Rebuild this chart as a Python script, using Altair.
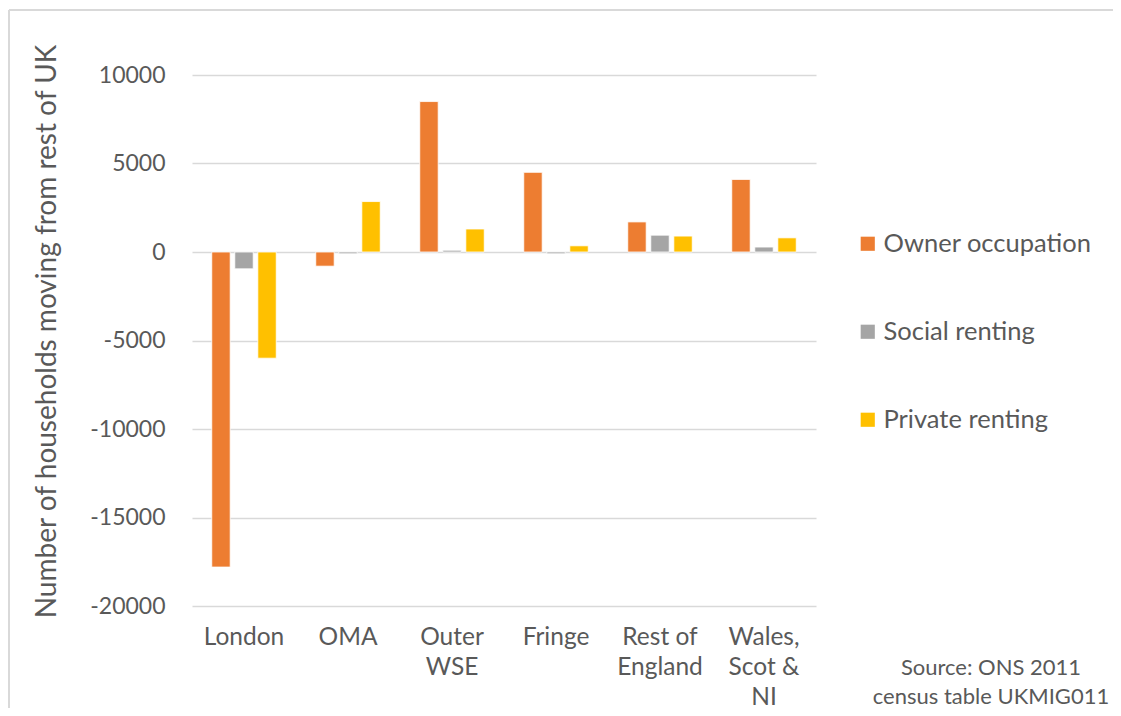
import altair as alt
import pandas as pd

categories = ["London", "OMA", "Outer WSE", "Fringe", "Rest of England", "Wales, Scot & NI"]
tenures = ["Owner occupation", "Social renting", "Private renting"]
owner = [-17800, -800, 8500, 4500, 1700, 4100]
social = [-950, -100, 100, -100, 950, 280]
private = [-6000, 2850, 1300, 350, 900, 800]
colors = ["#ED7D31", "#A5A5A5", "#FFC000"]
label_lines = {
    "Outer WSE": ["Outer", "WSE"],
    "Rest of England": ["Rest of", "England"],
    "Wales, Scot & NI": ["Wales,", "Scot &", "NI"],
}
source_lines = ["Source: ONS 2011", "census table UKMIG011"]

rows = []
for i, c in enumerate(categories):
    for t, vals in zip(tenures, [owner, social, private]):
        rows.append({"region": c, "tenure": t, "value": vals[i]})
df = pd.DataFrame(rows)

expr = "datum.value"
for k, v in label_lines.items():
    arr = "[" + ",".join("'" + s + "'" for s in v) + "]"
    expr = f"datum.value == '{k}' ? {arr} : ({expr})"

FONT = "Lato"
TXT = "#595959"

bars = alt.Chart(df).mark_bar(stroke="white", strokeWidth=0.8).encode(
    x=alt.X("region:N", sort=categories,
            scale=alt.Scale(paddingInner=0.38, paddingOuter=0.19),
            axis=alt.Axis(title=None, labelAngle=0, domain=False, ticks=False, grid=False,
                          labelExpr=expr, labelPadding=31, labelLineHeight=30,
                          labelFontSize=24.5, labelColor=TXT, labelFont=FONT,
                          labelBaseline="middle", labelLimit=0)),
    xOffset=alt.XOffset("tenure:N", sort=tenures, scale=alt.Scale(paddingInner=0.2)),
    y=alt.Y("value:Q", scale=alt.Scale(domain=[-20000, 10000], nice=False),
            axis=alt.Axis(values=[-20000, -15000, -10000, -5000, 0, 5000, 10000],
                          labelExpr="'' + datum.value",
                          title="Number of households moving from rest of UK",
                          titleFont=FONT, titleFontSize=28, titleFontWeight="normal",
                          titleColor=TXT, titleX=-145, titleY=256,
                          titleAlign="center", titleBaseline="middle", titleAngle=-90,
                          labelFont=FONT, labelFontSize=23, labelColor=TXT,
                          labelPadding=27, domain=False, ticks=False,
                          gridColor="#d9d9d9", gridWidth=1.3)),
    color=alt.Color("tenure:N", sort=tenures,
                    scale=alt.Scale(domain=tenures, range=colors),
                    legend=alt.Legend(title=None, orient="none", legendX=663, legendY=156,
                                      symbolType="square", symbolSize=200,
                                      symbolStrokeWidth=0, rowPadding=61,
                                      labelFont=FONT, labelFontSize=25.5, labelColor=TXT,
                                      labelOffset=3, labelLimit=0)),
)

one = pd.DataFrame({"a": [0]})
top_border = alt.Chart(one).mark_rule(color="#d9d9d9", strokeWidth=2).encode(
    x=alt.value(-183), x2=alt.value(1000), y=alt.value(-65))
left_border = alt.Chart(one).mark_rule(color="#d9d9d9", strokeWidth=2).encode(
    x=alt.value(-183), y=alt.value(-65), y2=alt.value(700))
source = alt.Chart(one).mark_text(font=FONT, fontSize=22, color=TXT, align="center",
                                  baseline="middle", lineHeight=29).encode(
    x=alt.value(799), y=alt.value(593), text=alt.value(source_lines))

chart = alt.layer(top_border, left_border, bars, source).properties(
    width=624, height=531,
    autosize="none",
    padding={"left": 184, "top": 67, "right": 297, "bottom": 102},
).configure(font=FONT, view=alt.ViewConfig(strokeWidth=0))

chart.save("out.html", embed_options={"renderer": "svg", "actions": False})
